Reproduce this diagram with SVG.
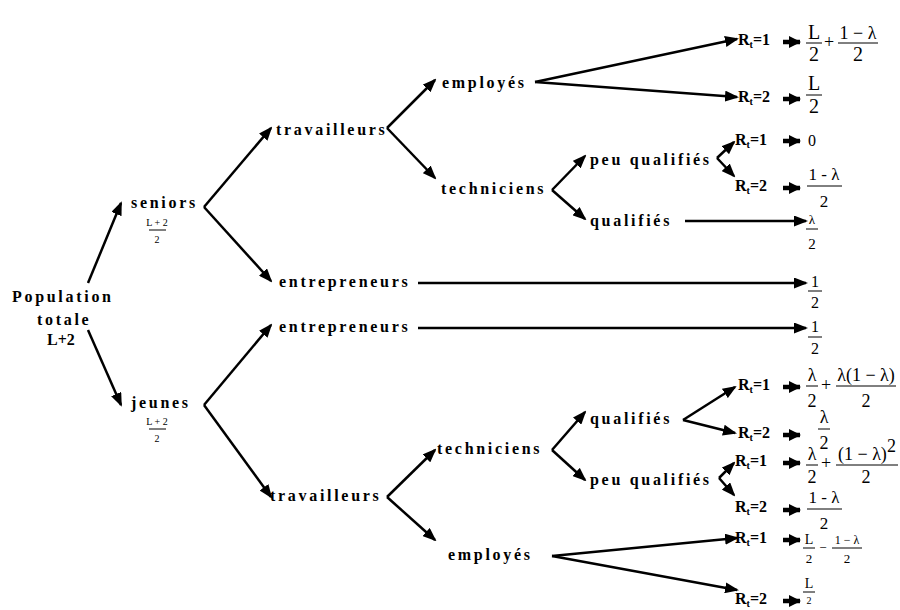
<svg xmlns="http://www.w3.org/2000/svg" width="900" height="610" viewBox="0 0 900 610">
<defs>
<marker id="ah" markerUnits="userSpaceOnUse" markerWidth="14" markerHeight="11" refX="12" refY="5.5" orient="auto">
<path d="M0,0 L14,5.5 L0,11 z" fill="#000"/>
</marker>
<marker id="ahs" markerUnits="userSpaceOnUse" markerWidth="12" markerHeight="12" refX="11" refY="6" orient="auto">
<path d="M0,0 L12,6 L0,12 z" fill="#000"/>
</marker>
</defs>
<style>
text{font-family:"Liberation Serif","Times New Roman","DejaVu Serif",serif;fill:#000}
.lbl{font-weight:bold;font-size:16px;letter-spacing:2.7px}
.r{font-weight:bold;font-size:16px}
.s{font-size:10px}
.m{text-anchor:middle}
.c{stroke:#000;stroke-width:2.5;fill:none;marker-end:url(#ah)}
.cs{stroke:#000;stroke-width:4.5;fill:none;marker-end:url(#ahs)}
.fl{stroke:#000;stroke-width:1;fill:none}
</style>
<rect width="900" height="610" fill="#fff"/>

<g id="connectors">
<path class="c" d="M88,283 L121,203"/>
<path class="c" d="M88,330 L121,405"/>
<path class="c" d="M204,207 L271,128"/>
<path class="c" d="M204,207 L271,281"/>
<path class="c" d="M204,405 L271,325"/>
<path class="c" d="M204,405 L271,497"/>
<path class="c" d="M387,128 L435,80"/>
<path class="c" d="M387,128 L435,178"/>
<path class="c" d="M535,82 L737,39"/>
<path class="c" d="M535,82 L737,97"/>
<path class="c" d="M552,190 L585,156"/>
<path class="c" d="M552,190 L585,219"/>
<path class="c" d="M717,158 L734,142"/>
<path class="c" d="M717,158 L734,176"/>
<path class="c" d="M685,221 L806,221"/>
<path class="c" d="M418,283 L806,283"/>
<path class="c" d="M418,328 L806,328"/>
<path class="c" d="M387,497 L435,450"/>
<path class="c" d="M387,497 L435,540"/>
<path class="c" d="M552,450 L585,412"/>
<path class="c" d="M552,450 L585,480"/>
<path class="c" d="M683,420 L735,387"/>
<path class="c" d="M683,420 L735,433"/>
<path class="c" d="M719,478 L734,463"/>
<path class="c" d="M719,478 L734,495"/>
<path class="c" d="M552,556 L737,538"/>
<path class="c" d="M552,556 L737,590"/>
<path class="cs" d="M783,42 L800,42"/>
<path class="cs" d="M783,99 L800,99"/>
<path class="cs" d="M783,141 L800,141"/>
<path class="cs" d="M783,188 L800,188"/>
<path class="cs" d="M783,387 L800,387"/>
<path class="cs" d="M783,435 L800,435"/>
<path class="cs" d="M783,463 L800,463"/>
<path class="cs" d="M783,510 L800,510"/>
<path class="cs" d="M783,540 L800,540"/>
<path class="cs" d="M783,601 L800,601"/>
</g>

<g id="population">
<text class="lbl" x="12" y="302">Population</text>
<text class="lbl" x="37" y="325">totale</text>
<text class="r" x="47" y="345">L+2</text>
</g>
<g id="seniors">
<text class="lbl" x="131" y="208">seniors</text>
<text class="m" x="157" y="226" font-size="10">L + 2</text>
<line class="fl" x1="149" y1="230" x2="166" y2="230"/>
<text class="m" x="157" y="243" font-size="10">2</text>
</g>
<g id="jeunes">
<text class="lbl" x="131" y="408">jeunes</text>
<text class="m" x="157" y="425" font-size="10">L + 2</text>
<line class="fl" x1="149" y1="429" x2="166" y2="429"/>
<text class="m" x="157" y="442" font-size="10">2</text>
</g>
<g id="travailleurs-s"><text class="lbl" x="276" y="135">travailleurs</text></g>
<g id="entrepreneurs-s"><text class="lbl" x="279" y="287">entrepreneurs</text></g>
<g id="entrepreneurs-j"><text class="lbl" x="279" y="332">entrepreneurs</text></g>
<g id="travailleurs-j"><text class="lbl" x="270" y="501">travailleurs</text></g>
<g id="employes-s"><text class="lbl" x="442" y="88">employés</text></g>
<g id="techniciens-s"><text class="lbl" x="441" y="194">techniciens</text></g>
<g id="techniciens-j"><text class="lbl" x="437" y="454">techniciens</text></g>
<g id="employes-j"><text class="lbl" x="448" y="560">employés</text></g>
<g id="peuqual-s"><text class="lbl" x="590" y="165">peu qualifiés</text></g>
<g id="qual-s"><text class="lbl" x="590" y="226">qualifiés</text></g>
<g id="qual-j"><text class="lbl" x="590" y="424">qualifiés</text></g>
<g id="peuqual-j"><text class="lbl" x="590" y="485">peu qualifiés</text></g>

<g id="r-emp-s-1"><text class="r" x="738" y="45">R<tspan class="s" dy="3">t</tspan><tspan dy="-3">=1</tspan></text></g>
<g id="r-emp-s-2"><text class="r" x="738" y="102">R<tspan class="s" dy="3">t</tspan><tspan dy="-3">=2</tspan></text></g>
<g id="r-pq-s-1"><text class="r" x="735" y="145">R<tspan class="s" dy="3">t</tspan><tspan dy="-3">=1</tspan></text></g>
<g id="r-pq-s-2"><text class="r" x="735" y="191">R<tspan class="s" dy="3">t</tspan><tspan dy="-3">=2</tspan></text></g>
<g id="r-q-j-1"><text class="r" x="738" y="390">R<tspan class="s" dy="3">t</tspan><tspan dy="-3">=1</tspan></text></g>
<g id="r-q-j-2"><text class="r" x="738" y="438">R<tspan class="s" dy="3">t</tspan><tspan dy="-3">=2</tspan></text></g>
<g id="r-pq-j-1"><text class="r" x="735" y="466">R<tspan class="s" dy="3">t</tspan><tspan dy="-3">=1</tspan></text></g>
<g id="r-pq-j-2"><text class="r" x="735" y="512">R<tspan class="s" dy="3">t</tspan><tspan dy="-3">=2</tspan></text></g>
<g id="r-emp-j-1"><text class="r" x="735" y="543">R<tspan class="s" dy="3">t</tspan><tspan dy="-3">=1</tspan></text></g>
<g id="r-emp-j-2"><text class="r" x="735" y="604">R<tspan class="s" dy="3">t</tspan><tspan dy="-3">=2</tspan></text></g>

<g id="v1">
<text class="m" x="814" y="39" font-size="20">L</text>
<line class="fl" x1="806" y1="43" x2="822" y2="43"/>
<text class="m" x="814" y="61" font-size="20">2</text>
<text class="m" x="829" y="48" font-size="18">+</text>
<text class="m" x="858" y="39" font-size="18">1 − λ</text>
<line class="fl" x1="838" y1="43" x2="878" y2="43"/>
<text class="m" x="858" y="61" font-size="20">2</text>
</g>
<g id="v2">
<text class="m" x="814" y="90" font-size="20">L</text>
<line class="fl" x1="806" y1="95" x2="822" y2="95"/>
<text class="m" x="814" y="113" font-size="20">2</text>
</g>
<g id="v3"><text x="808" y="146" font-size="16">0</text></g>
<g id="v4">
<text class="m" x="824" y="180" font-size="17">1 - λ</text>
<line class="fl" x1="807" y1="186" x2="842" y2="186"/>
<text class="m" x="824" y="207" font-size="17">2</text>
</g>
<g id="v5">
<text class="m" x="812" y="224" font-size="13">λ</text>
<line class="fl" x1="806" y1="229" x2="818" y2="229"/>
<text class="m" x="812" y="249" font-size="15">2</text>
</g>
<g id="v6">
<text class="m" x="815" y="287" font-size="16">1</text>
<line class="fl" x1="808" y1="291" x2="822" y2="291"/>
<text class="m" x="815" y="308" font-size="16">2</text>
</g>
<g id="v7">
<text class="m" x="815" y="332" font-size="16">1</text>
<line class="fl" x1="808" y1="337" x2="822" y2="337"/>
<text class="m" x="815" y="354" font-size="16">2</text>
</g>
<g id="v8">
<text class="m" x="812" y="381" font-size="18">λ</text>
<line class="fl" x1="806" y1="386" x2="818" y2="386"/>
<text class="m" x="812" y="407" font-size="18">2</text>
<text class="m" x="826" y="391" font-size="18">+</text>
<text class="m" x="866" y="381" font-size="18">λ(1 − λ)</text>
<line class="fl" x1="836" y1="386" x2="896" y2="386"/>
<text class="m" x="866" y="407" font-size="18">2</text>
</g>
<g id="v9">
<text class="m" x="824" y="423" font-size="18">λ</text>
<line class="fl" x1="818" y1="429" x2="830" y2="429"/>
<text class="m" x="824" y="449" font-size="18">2</text>
</g>
<g id="v10">
<text class="m" x="812" y="460" font-size="18">λ</text>
<line class="fl" x1="806" y1="465" x2="818" y2="465"/>
<text class="m" x="812" y="483" font-size="18">2</text>
<text class="m" x="826" y="469" font-size="18">+</text>
<text x="838" y="460" font-size="18">(1 − λ)<tspan dy="-8">2</tspan></text>
<line class="fl" x1="836" y1="465" x2="898" y2="465"/>
<text class="m" x="866" y="483" font-size="18">2</text>
</g>
<g id="v11">
<text class="m" x="824" y="503" font-size="17">1 - λ</text>
<line class="fl" x1="807" y1="509" x2="842" y2="509"/>
<text class="m" x="824" y="529" font-size="17">2</text>
</g>
<g id="v12">
<text class="m" x="809" y="544" font-size="14">L</text>
<line class="fl" x1="803" y1="548" x2="815" y2="548"/>
<text class="m" x="809" y="563" font-size="13">2</text>
<text class="m" x="823" y="552" font-size="13">−</text>
<text class="m" x="847" y="544" font-size="12">1 − λ</text>
<line class="fl" x1="832" y1="548" x2="862" y2="548"/>
<text class="m" x="847" y="563" font-size="13">2</text>
</g>
<g id="v13">
<text class="m" x="809" y="588" font-size="14">L</text>
<line class="fl" x1="803" y1="592" x2="815" y2="592"/>
<text class="m" x="809" y="604" font-size="10">2</text>
</g>
</svg>
